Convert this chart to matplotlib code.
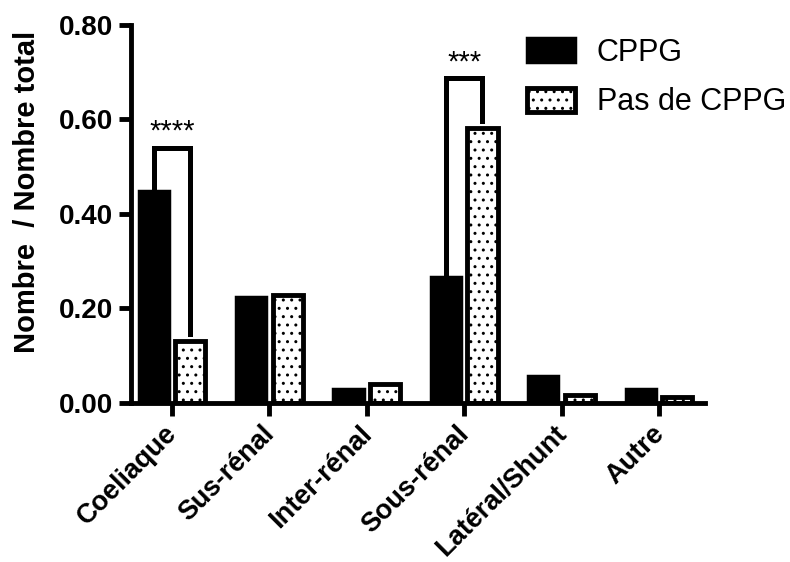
import numpy as np
import matplotlib
matplotlib.use("Agg")
import matplotlib.pyplot as plt
import matplotlib.transforms as mtransforms

plt.rcParams['font.family'] = ['Liberation Sans', 'DejaVu Sans']
plt.rcParams['hatch.linewidth'] = 1.0

# Data
categories = ['Coeliaque', 'Sus-rénal', 'Inter-rénal', 'Sous-rénal', 'Latéral/Shunt', 'Autre']
cppg = [0.449, 0.224, 0.030, 0.267, 0.057, 0.030]
pas_cppg = [0.132, 0.228, 0.040, 0.583, 0.016, 0.012]
series_names = ['CPPG', 'Pas de CPPG']
yticks = [0.0, 0.2, 0.4, 0.6, 0.8]
# significance brackets: (category index, label, bracket top)
signif = [(0, '****', 0.54), (3, '***', 0.687)]

x = np.arange(len(categories))
w = 0.31
off = 0.188

fig = plt.figure(figsize=(7.9, 5.62), dpi=100)
ax = fig.add_axes([0.166, 0.283, 0.726, 0.6725])

ax.bar(x - off, cppg, w, color='black', edgecolor='black', linewidth=2.5,
       label=series_names[0])
ax.bar(x + off, pas_cppg, w, color='white', edgecolor='black', linewidth=3.5,
       hatch='..', label=series_names[1])

for i, txt, top in signif:
    x1, x2 = i - off, i + off
    y1 = cppg[i] + 0.008
    y2 = pas_cppg[i] + 0.013
    ax.plot([x1, x1, x2, x2], [y1, top, top, y2], color='black', lw=3.6,
            solid_joinstyle='miter', clip_on=False)
    ax.text(i, top + 0.004, txt, ha='center', va='bottom', fontsize=21)

ax.set_xlim(-0.42, 5.47)
ax.set_ylim(0, 0.8)
ax.set_yticks(yticks)
ax.set_yticklabels(['%.2f' % v for v in yticks], fontsize=20, fontweight='bold')
ax.set_xticks(x)
ax.set_xticklabels(categories, rotation=45, ha='right', rotation_mode='anchor',
                   fontsize=19.5, fontweight='bold')
ax.tick_params(axis='both', width=3.5, length=9, direction='out')
ax.tick_params(axis='x', pad=6)
ax.tick_params(axis='y', pad=4)

# nudge rotated labels so they end right under the ticks
shift = mtransforms.ScaledTranslation(-8 / 100, 3 / 100, fig.dpi_scale_trans)
for lbl in ax.get_xticklabels():
    lbl.set_transform(lbl.get_transform() + shift)

for s in ['top', 'right']:
    ax.spines[s].set_visible(False)
for s in ['left', 'bottom']:
    ax.spines[s].set_linewidth(3.5)

ax.set_ylabel('Nombre  / Nombre total', fontsize=21, fontweight='bold')
ax.yaxis.set_label_coords(-0.157, 0.558)

ax.legend(loc='upper left', bbox_to_anchor=(0.632, 0.982), bbox_transform=fig.transFigure,
          frameon=False, fontsize=22, handlelength=1.57, handleheight=0.85,
          handletextpad=0.72, labelspacing=0.65)

plt.savefig('out.png', dpi=100)
